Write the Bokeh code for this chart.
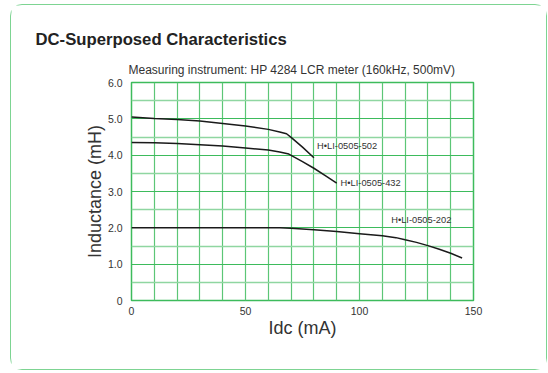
from bokeh.plotting import figure
from bokeh.models import Label, FixedTicker, Range1d, Title
from bokeh.embed import file_html
from bokeh.resources import INLINE

# ---- data ----
x_502 = [0, 10, 20, 30, 40, 50, 60, 65, 68, 70, 75, 80]
y_502 = [5.05, 5.01, 4.98, 4.94, 4.87, 4.80, 4.71, 4.64, 4.59, 4.49, 4.22, 3.93]

x_432 = [0, 10, 20, 30, 40, 50, 60, 65, 69, 75, 80, 85, 90]
y_432 = [4.35, 4.34, 4.32, 4.29, 4.25, 4.20, 4.14, 4.09, 4.03, 3.82, 3.64, 3.44, 3.23]

x_202 = [0, 10, 20, 30, 40, 50, 60, 65, 70, 80, 90, 100, 110, 116, 120, 125, 130, 135, 140, 145]
y_202 = [2.0, 2.0, 2.0, 2.0, 2.0, 2.0, 2.0, 2.0, 1.99, 1.95, 1.90, 1.84, 1.78, 1.73, 1.67, 1.60, 1.51, 1.41, 1.30, 1.17]

series_names = ["H\u2022LI-0505-502", "H\u2022LI-0505-432", "H\u2022LI-0505-202"]
label_x = [81.4, 91.7, 113.9]
label_y = [4.24, 3.23, 2.22]

x_ticks = [0, 50, 100, 150]
x_tick_labels = ["0", "50", "100", "150"]
y_ticks = [0, 1, 2, 3, 4, 5, 6]
y_tick_labels = ["0", "1.0", "2.0", "3.0", "4.0", "5.0", "6.0"]

FONT = "Liberation Sans"
TXT = "#333333"
G_DARK = "#3dbb5c"
G_LIGHT = "#8fd6a1"

p = figure(width=535, height=364, output_backend="svg", toolbar_location=None,
           x_range=Range1d(0, 150), y_range=Range1d(0, 6),
           min_border_left=120, min_border_top=77, min_border_right=73, min_border_bottom=69,
           frame_width=342, frame_height=218)
p.styles = {"position": "relative", "left": "10px", "top": "4px",
            "border": "1.5px solid #7dd492", "border-radius": "12px"}
p.background_fill_color = "white"
p.border_fill_color = "white"
p.outline_line_color = G_DARK
p.outline_line_width = 1.5

# titles: p.title is the outer one, the added Title sits next to the frame
p.title.text = "DC-Superposed Characteristics"
p.title.align = "left"
p.title.offset = -96
p.title.standoff = 12
p.title.text_font = FONT
p.title.text_font_size = "16.7px"
p.title.text_font_style = "bold"
p.title.text_color = "#222222"
p.add_layout(Title(text="Measuring instrument: HP 4284 LCR meter (160kHz, 500mV)",
                   align="left", offset=-3, standoff=12, text_font=FONT,
                   text_font_size="12px", text_font_style="normal",
                   text_color=TXT), "above")

# grid
p.xgrid.ticker = FixedTicker(ticks=list(range(0, 151, 10)))
p.xgrid.grid_line_color = "#5cc676"
p.xgrid.grid_line_width = 1.2
p.ygrid.ticker = FixedTicker(ticks=y_ticks, minor_ticks=[0.5, 1.5, 2.5, 3.5, 4.5, 5.5])
p.ygrid.grid_line_color = G_DARK
p.ygrid.grid_line_width = 1.0
p.ygrid.minor_grid_line_color = G_LIGHT
p.ygrid.minor_grid_line_width = 1.5

# axes
for ax in (p.xaxis[0], p.yaxis[0]):
    ax.axis_line_color = None
    ax.major_tick_line_color = None
    ax.minor_tick_line_color = None
    ax.major_label_text_font = FONT
    ax.major_label_text_font_size = "10.5px"
    ax.major_label_text_color = TXT
    ax.axis_label_text_font = FONT
    ax.axis_label_text_font_size = "18px"
    ax.axis_label_text_font_style = "normal"
    ax.axis_label_text_color = TXT

p.xaxis.ticker = FixedTicker(ticks=x_ticks)
p.xaxis.major_label_overrides = dict(zip(x_ticks, x_tick_labels))
p.xaxis.major_label_standoff = 0
p.xaxis.axis_label = "Idc (mA)"
p.xaxis.axis_label_standoff = 0

p.yaxis.ticker = FixedTicker(ticks=y_ticks)
p.yaxis.major_label_overrides = dict(zip(y_ticks, y_tick_labels))
p.yaxis.major_label_standoff = 3
p.yaxis.axis_label = "Inductance (mH)"
p.yaxis.axis_label_standoff = 0

# curves
for xs, ys in ((x_502, y_502), (x_432, y_432), (x_202, y_202)):
    p.line(xs, ys, line_color="#1a1a1a", line_width=1.5)

for name, lx, ly in zip(series_names, label_x, label_y):
    p.add_layout(Label(x=lx, y=ly, text=name, text_font=FONT, text_font_size="9.3px",
                       text_color=TXT, text_baseline="middle", text_align="left"))

open("out.html", "w").write(file_html(p, INLINE))
